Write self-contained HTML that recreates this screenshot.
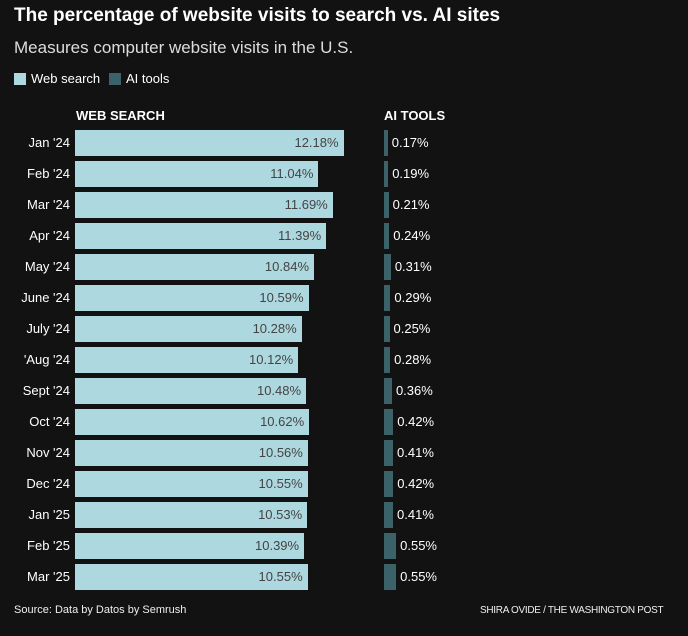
<!DOCTYPE html>
<html><head><meta charset="utf-8"><style>
body{margin:0;background:#121212;width:688px;height:636px;overflow:hidden;font-family:"Liberation Sans",sans-serif;color:#fff;position:relative}
.a{position:absolute;white-space:nowrap}
</style></head><body>
<div class="a" style="left:14px;top:5px;font-size:19px;font-weight:bold">The percentage of website visits to search vs. AI sites</div>
<div class="a" style="left:14px;top:38px;font-size:17px;color:#ddd">Measures computer website visits in the U.S.</div>
<div class="a" style="left:14px;top:71px;font-size:13px"><span style="display:inline-block;width:12px;height:12px;background:#add8df;vertical-align:-2px;margin-right:5px"></span>Web search</div>
<div class="a" style="left:109px;top:71px;font-size:13px"><span style="display:inline-block;width:12px;height:12px;background:#3a6268;vertical-align:-2px;margin-right:5px"></span>AI tools</div>
<div class="a" style="left:76px;top:108px;font-size:13px;font-weight:bold">WEB SEARCH</div>
<div class="a" style="left:384px;top:108px;font-size:13px;font-weight:bold">AI TOOLS</div>
<div id="rows"></div>
<div class="a" style="left:14px;top:604px;font-size:11px;color:#eee">Source: Data by Datos by Semrush</div>
<div class="a" style="left:480px;top:605px;font-size:10px;color:#eee;letter-spacing:-0.3px">SHIRA OVIDE / THE WASHINGTON POST</div>
<script>
const months=["Jan '24","Feb '24","Mar '24","Apr '24","May '24","June '24","July '24","'Aug '24","Sept '24","Oct '24","Nov '24","Dec '24","Jan '25","Feb '25","Mar '25"];
const webSearch=[12.18,11.04,11.69,11.39,10.84,10.59,10.28,10.12,10.48,10.62,10.56,10.55,10.53,10.39,10.55];
const aiTools=[0.17,0.19,0.21,0.24,0.31,0.29,0.25,0.28,0.36,0.42,0.41,0.42,0.41,0.55,0.55];
const pxPer=22.05, y0=130, pitch=31, bh=26;
const root=document.getElementById('rows');
months.forEach((m,i)=>{
  const y=y0+i*pitch;
  const lab=document.createElement('div');lab.className='a';
  
  
  lab.style.cssText=`right:${688-70}px;top:${y+5}px;font-size:13px`;lab.textContent=m;root.appendChild(lab);
  const w=webSearch[i]*pxPer;
  const b=document.createElement('div');b.className='a';
  
  
  b.style.cssText=`left:75px;top:${y}px;width:${w}px;height:${bh}px;background:#add8df;color:#444;font-size:13px;line-height:${bh}px;text-align:right;box-sizing:border-box;padding-right:5px`;
  b.textContent=webSearch[i].toFixed(2)+'%';root.appendChild(b);
  const aw=Math.max(2,aiTools[i]*pxPer);
  const ab=document.createElement('div');ab.className='a';
  
  
  ab.style.cssText=`left:384px;top:${y}px;width:${aw}px;height:${bh}px;background:#3a6268`;root.appendChild(ab);
  const al=document.createElement('div');al.className='a';
  
  
  al.style.cssText=`left:${384+aw+4}px;top:${y+5}px;font-size:13px`;al.textContent=aiTools[i].toFixed(2)+'%';root.appendChild(al);
});
</script>
</body></html>
